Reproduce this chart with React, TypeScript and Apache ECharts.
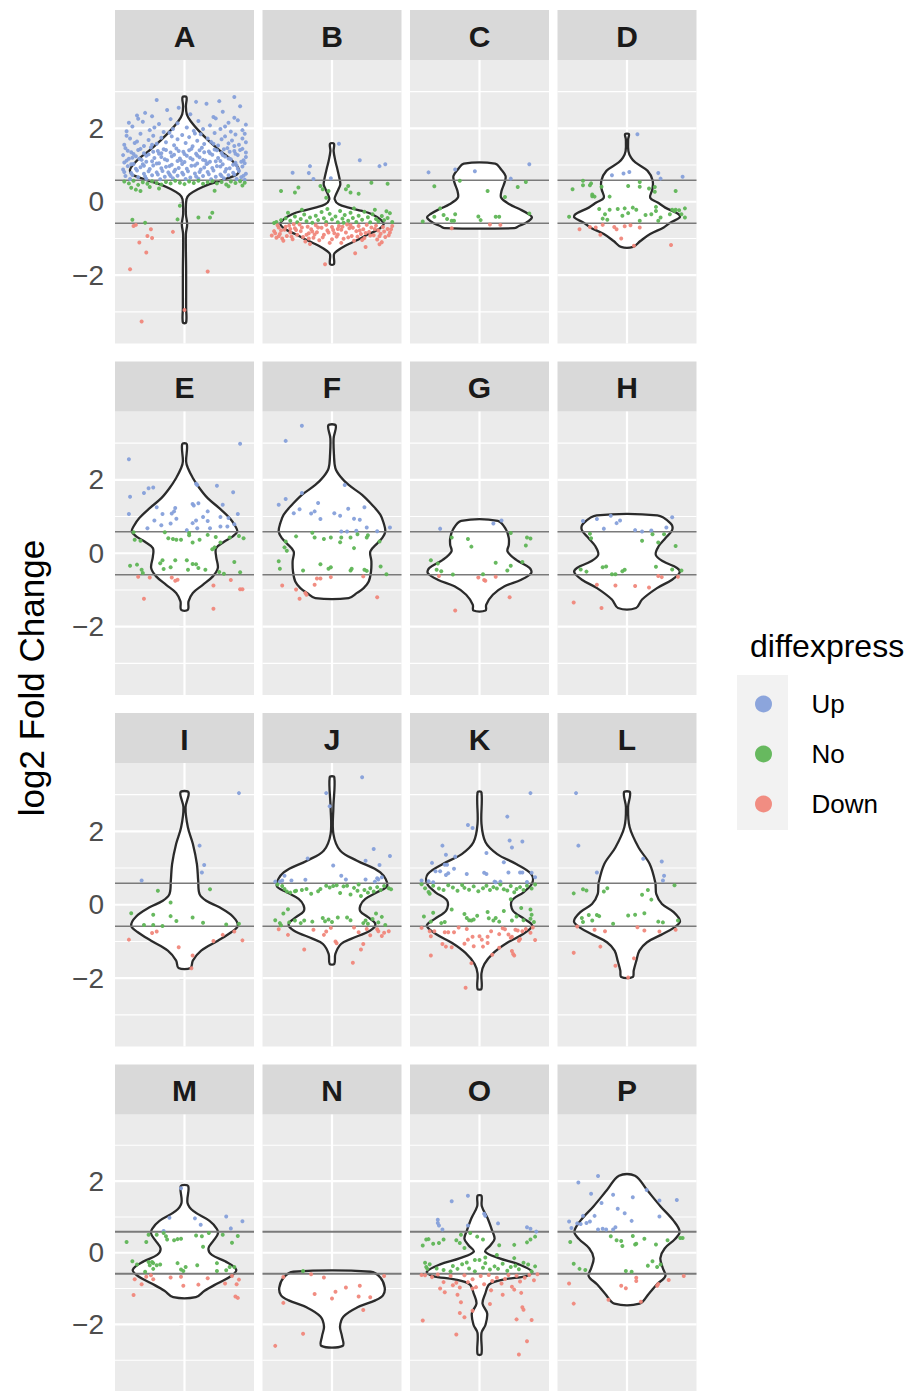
import React, { useEffect, useRef } from "react";
import * as echarts from "echarts";

const panelLabels = ["A", "B", "C", "D", "E", "F", "G", "H", "I", "J", "K", "L", "M", "N", "O", "P"];
const majorTicks = [-2, 0, 2];
const minorTicks = [-3, -1, 1, 3];
const foldThreshold = 0.585;
const groups = ["Up", "No", "Down"];
const groupColors = ["#86a0da", "#5fb556", "#f0877b"];

// violin outlines: [y, halfWidth] pairs, top to bottom
const vioA = [2.85,0.017, 2.6,0.012, 2.38,0.02, 2.20,0.052, 1.93,0.124, 1.66,0.21, 1.38,0.31, 1.20,0.383, 1.02,0.44, 0.88,0.47, 0.75,0.455, 0.61,0.345, 0.48,0.216, 0.34,0.115, 0.20,0.043, 0.07,0.017, -0.34,0.012, -0.61,0.023, -0.88,0.012, -1.88,0.014, -2.88,0.014, -3.29,0.014];
const vioB = [1.58,0.017, 1.38,0.014, 1.11,0.029, 0.93,0.043, 0.66,0.063, 0.48,0.072, 0.39,0.063, 0.20,0.035, 0.07,0.023, -0.07,0.058, -0.16,0.144, -0.25,0.26, -0.34,0.345, -0.48,0.417, -0.61,0.446, -0.75,0.403, -0.88,0.317, -1.07,0.2, -1.20,0.115, -1.34,0.043, -1.43,0.017, -1.70,0.017];
const vioC = [1.04,0.135, 0.88,0.187, 0.70,0.225, 0.52,0.216, 0.29,0.19, 0.11,0.187, -0.07,0.259, -0.20,0.345, -0.34,0.426, -0.43,0.452, -0.57,0.403, -0.66,0.34, -0.72,0.3];
const vioD = [1.84,0.017, 1.70,0.01, 1.38,0.012, 1.20,0.035, 1.07,0.072, 0.84,0.178, 0.57,0.222, 0.34,0.219, 0.11,0.2, -0.02,0.265, -0.16,0.33, -0.34,0.446, -0.43,0.455, -0.57,0.374, -0.70,0.317, -0.88,0.2, -1.07,0.115, -1.23,0.052];
const vioE = [2.97,0.02, 2.50,0.014, 2.32,0.029, 2.05,0.072, 1.77,0.13, 1.50,0.2, 1.23,0.3, 0.96,0.39, 0.73,0.44, 0.59,0.455, 0.46,0.417, 0.32,0.345, 0.14,0.273, -0.09,0.273, -0.40,0.288, -0.63,0.245, -0.86,0.158, -1.08,0.072, -1.31,0.035, -1.54,0.029];
const vioF = [3.48,0.032, 3.13,0.014, 2.68,0.017, 2.32,0.029, 2.09,0.072, 1.86,0.144, 1.59,0.26, 1.32,0.345, 1.05,0.417, 0.82,0.446, 0.59,0.46, 0.41,0.432, 0.28,0.394, 0.05,0.331, -0.22,0.34, -0.49,0.337, -0.77,0.317, -0.95,0.273, -1.08,0.216, -1.22,0.144];
const vioG = [0.88,0.158, 0.64,0.23, 0.41,0.253, 0.23,0.253, 0.05,0.242, -0.18,0.317, -0.40,0.432, -0.54,0.446, -0.72,0.36, -0.90,0.216, -1.13,0.115, -1.40,0.058, -1.56,0.052];
const vioH = [1.03,0.262, 0.82,0.374, 0.64,0.391, 0.41,0.331, 0.19,0.273, -0.04,0.248, -0.22,0.311, -0.40,0.432, -0.52,0.455, -0.72,0.389, -0.95,0.259, -1.26,0.13, -1.49,0.078];
const vioI = [3.06,0.035, 2.65,0.009, 2.11,0.029, 1.66,0.072, 1.11,0.107, 0.66,0.118, 0.29,0.13, 0.11,0.187, -0.07,0.302, -0.32,0.417, -0.57,0.46, -0.75,0.403, -0.98,0.288, -1.25,0.144, -1.52,0.072, -1.72,0.052];
const vioJ = [3.47,0.02, 2.65,0.012, 1.93,0.012, 1.47,0.072, 1.20,0.216, 0.88,0.417, 0.52,0.478, 0.34,0.389, 0.16,0.288, -0.02,0.245, -0.18,0.245, -0.34,0.311, -0.52,0.374, -0.70,0.331, -0.93,0.164, -1.07,0.078, -1.34,0.029, -1.61,0.02];
const vioK = [3.06,0.017, 2.20,0.017, 1.70,0.052, 1.38,0.153, 1.11,0.317, 0.84,0.446, 0.59,0.455, 0.34,0.38, 0.11,0.279, -0.16,0.288, -0.39,0.389, -0.57,0.455, -0.79,0.38, -1.04,0.236, -1.31,0.121, -1.61,0.043, -1.87,0.017, -2.29,0.017];
const vioL = [3.06,0.026, 2.65,0.009, 2.11,0.023, 1.56,0.1, 1.11,0.196, 0.59,0.245, 0.29,0.253, 0.02,0.302, -0.20,0.403, -0.45,0.458, -0.63,0.403, -0.82,0.294, -1.02,0.173, -1.25,0.107, -1.52,0.081, -1.79,0.058, -1.97,0.049];
const vioM = [1.86,0.032, 1.39,0.026, 1.16,0.078, 0.89,0.216, 0.67,0.279, 0.53,0.288, 0.35,0.253, 0.12,0.207, -0.06,0.236, -0.24,0.351, -0.47,0.446, -0.65,0.403, -0.85,0.288, -1.06,0.173, -1.24,0.098];
const vioN = [-0.53,0.334, -0.69,0.417, -0.97,0.455, -1.19,0.44, -1.33,0.374, -1.53,0.216, -1.78,0.1, -2.06,0.069, -2.33,0.086, -2.60,0.092];
const vioO = [1.59,0.017, 1.30,0.02, 0.97,0.069, 0.62,0.109, 0.39,0.13, 0.21,0.095, 0.03,0.049, -0.15,0.167, -0.33,0.345, -0.53,0.455, -0.65,0.403, -0.74,0.216, -0.88,0.086, -1.15,0.049, -1.42,0.026, -1.69,0.066, -2.01,0.052, -2.24,0.017, -2.83,0.017];
const vioP = [2.15,0.069, 1.75,0.173, 1.30,0.288, 0.89,0.403, 0.59,0.455, 0.39,0.417, 0.12,0.325, -0.15,0.288, -0.42,0.308, -0.65,0.331, -0.88,0.259, -1.15,0.187, -1.42,0.109];

// jittered points: [x, y] pairs
const ptsA = [
-0.24,2.77, 0.10,2.72, 0.19,2.67, 0.30,2.74, 0.43,2.85, -0.05,2.56, -0.41,2.35, -0.34,2.42, 0.43,2.29, 0.33,2.45, -0.15,2.50, 0.05,2.38, 0.25,2.31, -0.28,2.33, 0.48,2.60,
-0.50,1.92, -0.45,2.05, -0.36,2.18, -0.22,2.12, -0.12,2.25, 0.02,2.02, 0.12,2.20, 0.22,2.08, 0.31,1.98, 0.38,2.15, 0.46,2.22, 0.50,1.95, -0.30,1.95, -0.18,1.90, 0.08,1.93, 0.27,2.27, -0.40,2.26, -0.06,2.14, 0.40,1.91, 0.16,1.98, -0.48,2.15, 0.35,2.05, -0.26,2.02, 0.53,2.10, -0.10,1.98,
-0.52,1.55, -0.47,1.72, -0.43,1.60, -0.38,1.85, -0.35,1.52, -0.31,1.68, -0.27,1.80, -0.24,1.58, -0.20,1.74, -0.16,1.62, -0.13,1.88, -0.09,1.54, -0.06,1.70, -0.02,1.82, 0.01,1.60, 0.04,1.76, 0.07,1.51, 0.11,1.66, 0.14,1.84, 0.17,1.57, 0.20,1.72, 0.23,1.63, 0.26,1.87, 0.29,1.53, 0.32,1.70, 0.35,1.78, 0.38,1.59, 0.41,1.67, 0.44,1.83, 0.47,1.55, 0.50,1.72, 0.53,1.62, -0.50,1.80, -0.41,1.64, -0.28,1.55, -0.11,1.78, 0.09,1.86, 0.25,1.58, 0.43,1.52, 0.52,1.85,
-0.51,1.46, -0.40,1.41, -0.29,1.48, -0.18,1.43, -0.07,1.45, 0.04,1.40, 0.15,1.47, 0.26,1.42, 0.37,1.46, 0.48,1.41,
-0.46,1.35, -0.35,1.32, -0.23,1.38, -0.12,1.34, -0.01,1.36, 0.10,1.31, 0.21,1.37, 0.32,1.33, 0.43,1.38, 0.53,1.34,
-0.53,1.27, -0.42,1.24, -0.31,1.29, -0.20,1.22, -0.09,1.28, 0.02,1.25, 0.13,1.21, 0.24,1.28, 0.35,1.23, 0.46,1.27,
-0.48,1.17, -0.37,1.14, -0.26,1.19, -0.15,1.13, -0.04,1.18, 0.07,1.15, 0.18,1.12, 0.29,1.19, 0.40,1.16, 0.51,1.13,
-0.52,1.07, -0.44,1.03, -0.33,1.09, -0.22,1.05, -0.11,1.01, 0.00,1.08, 0.11,1.04, 0.22,1.09, 0.33,1.02, 0.44,1.06,
-0.49,0.97, -0.38,0.94, -0.27,0.99, -0.16,0.95, -0.05,0.92, 0.06,0.98, 0.17,0.93, 0.28,0.97, 0.39,0.91, 0.50,0.96,
-0.53,0.88, -0.41,0.85, -0.30,0.89, -0.19,0.84, -0.08,0.87, 0.03,0.83, 0.14,0.88, 0.25,0.85, 0.36,0.89, 0.47,0.84,
-0.46,0.78, -0.35,0.76, -0.24,0.80, -0.13,0.75, -0.02,0.79, 0.09,0.77, 0.20,0.81, 0.31,0.74, 0.42,0.79, 0.53,0.76,
-0.51,0.70, -0.40,0.67, -0.28,0.72, -0.17,0.68, -0.06,0.71, 0.05,0.66, 0.16,0.70, 0.27,0.68, 0.38,0.72, 0.49,0.67,
-0.47,0.62, -0.33,0.63, -0.21,0.61, -0.10,0.64, 0.01,0.62, 0.12,0.63, 0.23,0.61, 0.34,0.64, 0.45,0.62, 0.52,0.60,
-0.45,1.20, -0.36,1.02, -0.20,1.32, -0.03,1.12, 0.13,1.40, 0.31,1.11, 0.45,0.99, 0.34,1.43, -0.14,0.80, 0.19,1.03,
-0.49,1.39, -0.38,1.44, -0.27,1.36, -0.16,1.41, -0.05,1.38, 0.06,1.44, 0.17,1.35, 0.28,1.40, 0.39,1.36, 0.50,1.44,
-0.44,1.30, -0.33,1.25, -0.22,1.31, -0.11,1.24, 0.00,1.30, 0.11,1.26, 0.22,1.32, 0.33,1.27, 0.44,1.31, 0.53,1.22,
-0.50,1.12, -0.39,1.17, -0.28,1.10, -0.17,1.16, -0.06,1.11, 0.05,1.19, 0.16,1.14, 0.27,1.10, 0.38,1.18, 0.49,1.09,
-0.46,1.02, -0.35,0.98, -0.24,1.04, -0.13,0.97, -0.02,1.03, 0.09,0.99, 0.20,1.05, 0.31,0.96, 0.42,1.01, 0.52,1.05,
-0.52,0.81, -0.42,0.90, -0.31,0.83, -0.20,0.91, -0.09,0.82, 0.02,0.90, 0.13,0.81, 0.24,0.92, 0.35,0.82, 0.46,0.90,
-0.45,0.73, -0.34,0.69, -0.23,0.74, -0.12,0.70, -0.01,0.74, 0.10,0.69, 0.21,0.75, 0.32,0.70, 0.43,0.74, 0.51,0.71,
-0.52,0.55, -0.48,0.50, -0.44,0.57, -0.40,0.46, -0.36,0.53, -0.32,0.49, -0.28,0.56, -0.24,0.51, -0.20,0.47, -0.16,0.54, -0.12,0.50, -0.08,0.57, -0.04,0.52, 0.00,0.48, 0.04,0.55, 0.08,0.51, 0.12,0.57, 0.16,0.49, 0.20,0.53, 0.24,0.56, 0.28,0.50, 0.32,0.54, 0.36,0.47, 0.40,0.55, 0.44,0.51, 0.48,0.56, 0.52,0.52, -0.46,0.38, -0.42,0.33, -0.30,0.40, -0.22,0.36, 0.26,0.30, 0.38,0.42, 0.50,0.44, -0.38,0.29,
-0.04,-0.11, 0.24,-0.30, 0.22,-0.43, 0.12,-0.43, -0.06,-0.48, -0.45,-0.49, -0.34,-0.57,
-0.42,-0.63, -0.44,-0.66, -0.29,-0.75, -0.32,-0.93, -0.28,-0.99, -0.10,-0.82, -0.39,-1.11, -0.33,-1.38, -0.47,-1.84, 0.20,-1.90, 0.00,-2.95, -0.37,-3.26
];
const ptsB = [
0.06,1.58, -0.19,0.97, -0.34,0.79, -0.20,0.78, -0.16,0.62, 0.24,1.13, 0.41,0.97, 0.46,1.02, -0.01,0.64,
-0.44,0.29, -0.32,0.25, -0.29,0.39, -0.10,0.43, -0.08,0.34, -0.03,0.29, -0.05,0.11, 0.14,0.43, 0.12,0.34, 0.16,0.25, 0.23,0.22, 0.34,0.52, 0.48,0.49,
-0.48,-0.55, -0.44,-0.50, -0.40,-0.45, -0.36,-0.52, -0.32,-0.40, -0.30,-0.56, -0.27,-0.47, -0.24,-0.35, -0.22,-0.53, -0.19,-0.43, -0.17,-0.57, -0.14,-0.38, -0.12,-0.50, -0.09,-0.28, -0.07,-0.45, -0.05,-0.55, -0.02,-0.33, 0.00,-0.48, 0.03,-0.40, 0.05,-0.56, 0.07,-0.25, 0.09,-0.46, 0.11,-0.36, 0.14,-0.52, 0.16,-0.30, 0.18,-0.44, 0.21,-0.55, 0.23,-0.38, 0.26,-0.49, 0.28,-0.27, 0.31,-0.42, 0.33,-0.56, 0.35,-0.34, 0.38,-0.47, 0.40,-0.53, 0.43,-0.39, 0.45,-0.50, 0.48,-0.44, 0.50,-0.31, 0.52,-0.55, -0.50,-0.58, -0.38,-0.30, -0.04,-0.20, 0.19,-0.18, 0.37,-0.22, 0.47,-0.26, -0.26,-0.22, 0.10,-0.57,
-0.52,-0.92, -0.50,-0.80, -0.48,-0.98, -0.46,-0.70, -0.45,-0.88, -0.43,-1.00, -0.41,-0.76, -0.39,-0.93, -0.37,-0.65, -0.36,-0.84, -0.34,-1.02, -0.32,-0.72, -0.30,-0.90, -0.28,-0.62, -0.27,-0.80, -0.25,-0.96, -0.23,-1.08, -0.21,-0.68, -0.20,-0.86, -0.18,-0.75, -0.16,-0.98, -0.14,-0.64, -0.13,-0.83, -0.11,-1.05, -0.09,-0.71, -0.07,-0.90, -0.05,-0.63, -0.04,-0.78, -0.02,-1.12, 0.00,-0.69, 0.02,-0.86, 0.04,-0.95, 0.06,-0.66, 0.08,-0.76, 0.10,-1.01, 0.12,-0.84, 0.13,-0.62, 0.15,-0.72, 0.17,-0.93, 0.19,-1.06, 0.21,-0.80, 0.23,-0.66, 0.25,-0.88, 0.27,-0.75, 0.28,-0.99, 0.30,-0.63, 0.32,-0.82, 0.34,-0.70, 0.36,-0.91, 0.38,-0.65, 0.40,-0.78, 0.42,-0.87, 0.44,-0.69, 0.46,-0.96, 0.48,-0.74, 0.50,-0.84, 0.52,-0.66, -0.47,-0.64, -0.33,-0.61, -0.15,-0.89, 0.05,-0.74, 0.22,-0.95, 0.39,-1.03, 0.43,-1.10, -0.42,-1.06, 0.20,-1.40, -0.06,-1.70, 0.29,-1.23, 0.41,-1.16, -0.19,-1.15, 0.08,-1.12,
-0.49,-0.86, -0.44,-0.78, -0.40,-0.68, -0.35,-0.95, -0.31,-0.77, -0.26,-0.70, -0.22,-0.90, -0.17,-0.81, -0.12,-0.70, -0.08,-0.97, -0.03,-0.84, 0.01,-0.77, 0.05,-0.89, 0.09,-0.68, 0.14,-0.97, 0.18,-0.71, 0.24,-0.78, 0.29,-0.85, 0.33,-0.92, 0.37,-0.74, 0.41,-0.94, 0.45,-0.81, 0.49,-0.91, 0.51,-0.75, -0.46,-0.94, -0.20,-1.00, 0.00,-1.02, 0.26,-1.04, -0.36,-0.74, 0.16,-0.64
];
const ptsC = [
-0.44,0.80, -0.21,0.88, -0.04,0.83, 0.43,1.02, 0.27,0.63,
-0.17,0.57, -0.39,0.42, 0.07,0.29, 0.33,0.40, 0.40,0.54, 0.22,0.13, -0.34,-0.18, -0.39,-0.41, -0.31,-0.36, -0.28,-0.47, -0.24,-0.52, -0.22,-0.52, -0.21,-0.34, -0.49,-0.54, -0.01,-0.40, 0.01,-0.50, 0.14,-0.41, 0.17,-0.41, 0.43,-0.32,
-0.24,-0.72, 0.09,-0.62, 0.18,-0.63
];
const ptsD = [
0.09,1.84, -0.13,0.72, -0.03,0.77, 0.02,0.81, 0.27,0.78, 0.29,0.63, 0.48,0.68,
-0.38,0.57, -0.38,0.45, -0.32,0.45, -0.31,0.50, -0.47,0.34, -0.22,0.41, -0.30,0.15, -0.28,0.14, -0.15,0.14, 0.01,0.43, 0.11,0.54, 0.11,0.41, 0.19,0.36, 0.24,0.40, 0.24,0.27, 0.42,0.29, -0.50,-0.41, -0.24,-0.20, -0.19,-0.34, -0.21,-0.46, -0.17,-0.49, -0.15,-0.22, -0.08,-0.20, -0.04,-0.38, -0.02,-0.18, 0.01,-0.31, 0.05,-0.16, 0.08,-0.22, 0.11,-0.52, 0.16,-0.36, 0.21,-0.34, 0.25,-0.14, 0.25,-0.25, 0.27,-0.52, 0.29,-0.43, 0.37,-0.34, 0.39,-0.22, 0.41,-0.25, 0.42,-0.22, 0.45,-0.23, 0.47,-0.34, 0.50,-0.18, 0.50,-0.43, -0.30,0.20,
-0.41,-0.75, -0.32,-0.69, -0.27,-0.70, -0.23,-0.90, -0.21,-0.63, -0.11,-0.69, -0.09,-0.75, -0.05,-1.00, -0.02,-0.67, 0.03,-0.64, 0.11,-0.70, 0.06,-1.20, 0.38,-1.18
];
const ptsE = [
-0.48,2.56, 0.48,2.98, -0.47,1.54, -0.35,1.64, -0.31,1.77, -0.27,1.79, 0.10,1.89, 0.11,1.86, 0.28,1.84, 0.42,1.66, -0.48,1.07, -0.24,1.25, -0.19,1.07, -0.11,1.08, -0.09,1.14, -0.08,1.23, 0.07,1.34, 0.08,1.30, 0.12,1.36, 0.20,1.14, 0.16,0.99, 0.33,1.32, 0.46,1.07, -0.26,0.89, -0.07,0.94, 0.10,0.89, 0.20,0.88, 0.31,0.99, 0.38,0.96, -0.32,0.68, -0.20,0.76, -0.12,0.81, 0.02,0.63, 0.11,0.68, 0.22,0.68, 0.31,0.73, 0.43,0.79, 0.37,0.73, 0.07,0.82,
-0.44,0.57, -0.43,0.37, -0.38,0.34, -0.17,0.57, -0.14,0.41, -0.10,0.39, -0.07,0.37, -0.03,0.37, 0.04,0.55, 0.04,0.49, 0.07,0.29, 0.13,0.37, 0.20,0.50, 0.27,0.44, 0.26,0.16, 0.24,0.11, 0.31,0.29, 0.39,0.43, 0.47,0.47, 0.51,0.41, -0.47,-0.34, -0.41,-0.31, -0.37,-0.45, -0.36,-0.54, -0.21,-0.27, -0.19,-0.19, -0.18,-0.43, -0.12,-0.38, -0.08,-0.19, 0.02,-0.19, 0.03,-0.45, 0.07,-0.29, 0.10,-0.30, 0.12,-0.40, 0.18,-0.45, 0.30,-0.51, 0.34,-0.56, 0.43,-0.24, 0.48,-0.52,
-0.40,-0.64, -0.30,-0.66, -0.11,-0.66, -0.08,-0.75, -0.06,-0.72, -0.35,-1.24, 0.25,-0.88, 0.25,-1.51, 0.40,-0.73, 0.48,-0.98, 0.50,-0.98
];
const ptsF = [
-0.26,3.47, -0.40,3.06, 0.11,1.86, -0.26,1.64, -0.40,1.48, -0.46,1.32, -0.28,1.20, -0.12,1.37, -0.33,1.09, -0.18,1.08, -0.15,1.14, -0.10,0.93, 0.02,1.09, 0.07,1.02, 0.14,1.21, 0.19,0.94, 0.24,0.91, 0.28,1.25, 0.30,0.70, 0.39,0.60, 0.50,0.70, 0.08,0.59, 0.13,0.59, 0.21,0.61,
-0.17,0.56, -0.31,0.46, -0.40,0.32, -0.41,0.16, -0.39,0.07, -0.15,0.43, -0.07,0.39, -0.01,0.43, 0.08,0.43, 0.07,0.30, 0.16,0.43, 0.22,0.52, 0.19,0.14, 0.30,0.43, 0.31,0.49, 0.41,0.32, -0.46,-0.22, -0.45,-0.42, -0.25,-0.47, -0.10,-0.30, -0.03,-0.42, -0.01,-0.38, 0.16,-0.47, 0.17,-0.42, 0.28,-0.45, 0.30,-0.48, 0.42,-0.36, 0.47,-0.57,
-0.43,-0.88, -0.31,-0.99, -0.28,-1.24, -0.23,-1.08, -0.22,-1.13, -0.15,-0.86, -0.13,-0.69, -0.10,-0.69, -0.01,-0.65, 0.27,-0.63, 0.39,-1.20
];
const ptsG = [
-0.34,0.67, 0.12,0.81, 0.19,0.89,
-0.24,0.43, -0.10,0.39, -0.07,0.18, 0.27,0.55, 0.41,0.43, 0.44,0.40, 0.40,0.21, -0.42,-0.19, -0.36,-0.28, -0.37,-0.45, -0.33,-0.49, -0.23,-0.58, 0.03,-0.57, 0.14,-0.26, 0.27,-0.34, 0.24,-0.47, 0.37,-0.24,
-0.35,-0.62, -0.01,-0.66, 0.04,-0.73, 0.05,-0.75, 0.14,-0.64, 0.26,-1.20, -0.21,-1.56
];
const ptsH = [
-0.38,0.88, -0.26,0.93, -0.14,1.02, -0.09,0.82, -0.06,0.89, -0.20,0.67, 0.07,0.63, 0.13,0.59, 0.21,0.62, 0.34,0.70, 0.39,0.98,
-0.32,0.53, -0.31,0.41, 0.22,0.52, 0.32,0.52, 0.13,0.34, 0.27,0.29, 0.42,0.20, -0.21,-0.38, -0.18,-0.36, -0.35,-0.50, -0.40,-0.44, -0.13,-0.57, -0.10,-0.57, -0.04,-0.49, -0.02,-0.45, 0.25,-0.37, 0.39,-0.44, 0.47,-0.47,
-0.26,-0.86, -0.10,-0.88, 0.07,-0.89, 0.19,-0.93, 0.27,-0.62, 0.30,-0.65, 0.44,-0.64, -0.46,-1.34, -0.22,-1.49
];
const ptsI = [
0.47,3.04, 0.13,1.61, 0.17,1.08, 0.15,0.88, -0.37,0.66,
-0.23,0.38, 0.22,0.42, -0.12,0.06, -0.46,-0.23, -0.27,-0.27, -0.12,-0.31, -0.07,-0.44, 0.07,-0.35, 0.16,-0.49, -0.35,-0.55, -0.27,-0.55, -0.19,-0.58, 0.36,-0.54, 0.47,-0.52,
-0.28,-0.77, -0.24,-0.73, -0.48,-0.95, -0.05,-1.16, 0.07,-1.38, 0.06,-1.73, 0.25,-0.99, 0.33,-0.82, 0.43,-0.73, 0.50,-0.97
];
const ptsJ = [
0.26,3.47, -0.05,3.04, -0.02,2.68, 0.36,1.52, 0.50,1.33, -0.21,1.26, 0.29,1.20, 0.01,1.07, 0.41,1.08, -0.41,0.79, 0.08,0.79, 0.12,0.69, 0.39,0.72, 0.40,0.69, 0.43,0.75, 0.29,0.69, -0.49,0.63, -0.45,0.63, -0.43,0.66, -0.35,0.66, -0.23,0.68, 0.37,0.63,
-0.43,0.51, -0.41,0.43, -0.39,0.36, -0.32,0.37, -0.31,0.38, -0.26,0.40, -0.22,0.43, -0.18,0.30, -0.12,0.37, -0.10,0.43, -0.05,0.52, -0.02,0.47, 0.01,0.51, 0.04,0.53, 0.07,0.32, 0.10,0.50, 0.13,0.52, 0.16,0.28, 0.19,0.46, 0.22,0.38, 0.25,0.24, 0.28,0.40, 0.31,0.33, 0.33,0.45, 0.36,0.36, 0.39,0.48, 0.42,0.40, 0.45,0.51, 0.49,0.45, 0.51,0.42, -0.47,0.55, -0.36,0.33, 0.23,0.55,
-0.49,-0.42, -0.45,-0.50, -0.42,-0.24, -0.38,-0.12, -0.37,-0.48, -0.32,-0.43, -0.27,-0.50, -0.24,-0.43, -0.17,-0.46, -0.08,-0.36, -0.06,-0.45, -0.03,-0.40, 0.00,-0.47, 0.05,-0.35, 0.13,-0.35, 0.16,-0.42, 0.27,-0.50, 0.29,-0.43, 0.31,-0.52, 0.35,-0.39, 0.38,-0.24, 0.40,-0.48, 0.43,-0.33, 0.46,-0.55, -0.44,-0.56,
-0.46,-0.67, -0.38,-0.82, -0.24,-1.22, -0.07,-0.82, -0.05,-0.73, 0.03,-1.00, 0.04,-1.05, 0.19,-0.62, 0.23,-0.75, 0.30,-0.66, 0.25,-1.22, 0.27,-1.07, 0.18,-1.58, 0.39,-0.67, 0.40,-0.72, 0.45,-0.76, 0.49,-0.72, 0.33,-0.83, -0.01,-0.63, -0.16,-0.68, 0.43,-0.85
];
const ptsK = [
0.44,3.04, -0.10,2.17, -0.06,2.09, 0.24,2.40, 0.26,1.75, 0.28,1.56, 0.37,1.72, -0.32,1.61, -0.29,1.36, -0.21,1.31, -0.41,1.14, -0.30,1.09, -0.28,1.09, 0.06,1.41, 0.21,1.16, -0.38,0.91, -0.34,0.91, -0.27,0.86, -0.29,0.81, -0.22,0.98, -0.11,0.84, 0.04,0.87, 0.06,0.84, 0.25,0.88, 0.35,0.88, 0.37,0.88, 0.45,0.87, 0.48,0.75, -0.50,0.66, -0.44,0.64, -0.40,0.61, 0.13,0.63, 0.14,0.61, 0.18,0.63, 0.41,0.62,
-0.50,0.56, -0.47,0.45, -0.43,0.30, -0.40,0.52, -0.35,0.44, -0.31,0.40, -0.27,0.53, -0.23,0.47, -0.19,0.38, -0.15,0.54, -0.13,0.46, -0.09,0.41, -0.05,0.50, -0.01,0.37, 0.03,0.45, 0.06,0.52, 0.09,0.40, 0.12,0.48, 0.15,0.44, 0.18,0.55, 0.21,0.42, 0.24,0.39, 0.27,0.51, 0.30,0.34, 0.32,0.43, 0.35,0.48, 0.38,0.40, 0.41,0.52, 0.45,0.44, 0.48,0.55, -0.44,0.35, 0.27,0.15,
-0.48,-0.32, -0.40,-0.22, -0.42,-0.46, -0.33,-0.50, -0.30,-0.47, -0.13,-0.25, -0.11,-0.36, -0.09,-0.42, -0.07,-0.43, -0.05,-0.40, -0.02,-0.30, 0.07,-0.20, 0.08,-0.37, 0.12,-0.43, 0.14,-0.36, 0.17,-0.46, 0.21,-0.17, 0.28,-0.43, 0.32,-0.32, 0.38,-0.42, 0.44,-0.13, 0.45,-0.27, 0.47,-0.47, 0.44,-0.38, -0.24,-0.13, 0.36,-0.09,
-0.50,-0.63, -0.43,-0.72, -0.42,-0.86, -0.30,-0.75, -0.27,-0.75, -0.22,-0.75, -0.18,-0.62, -0.11,-0.66, -0.10,-0.95, -0.06,-0.87, 0.00,-0.86, 0.07,-0.87, 0.10,-0.72, 0.20,-0.64, 0.22,-0.67, 0.25,-0.81, 0.28,-0.87, 0.31,-0.68, 0.33,-0.70, 0.35,-0.93, 0.37,-0.72, 0.40,-0.66, 0.44,-0.76, 0.48,-0.96, 0.46,-0.62, 0.34,-0.98, 0.27,-0.90, -0.39,-0.72, -0.32,-1.07, -0.29,-1.14, -0.05,-1.13, 0.03,-1.14, 0.07,-1.04, 0.17,-1.17, 0.28,-1.26, 0.29,-1.34, 0.30,-1.38, -0.42,-1.38, -0.07,-1.59, -0.12,-2.26, 0.11,-1.36, -0.13,-1.06, 0.02,-0.95, 0.17,-0.80, -0.24,-1.16
];
const ptsL = [
-0.44,3.04, -0.42,1.61, 0.14,1.25, 0.30,1.18, 0.32,0.79, 0.31,0.66, -0.26,0.88,
0.41,0.53, -0.46,0.31, -0.38,0.42, -0.35,0.39, -0.20,0.36, -0.17,0.45, 0.18,0.40, 0.13,0.27, 0.21,0.14, -0.39,-0.36, -0.33,-0.28, -0.30,-0.43, -0.26,-0.28, -0.24,-0.31, -0.12,-0.52, 0.01,-0.29, 0.07,-0.27, 0.15,-0.23, 0.27,-0.46, 0.31,-0.48, 0.44,-0.43, -0.38,-0.47,
-0.43,-0.59, -0.28,-0.68, -0.19,-0.72, -0.23,-1.14, -0.46,-1.31, 0.09,-0.61, 0.15,-0.70, 0.28,-0.73, 0.42,-0.68, 0.06,-1.46, -0.10,-1.66, 0.01,-1.98
];
const ptsM = [
-0.03,1.80, -0.13,0.98, 0.09,0.96, 0.14,0.78, 0.36,1.01, 0.40,0.68, 0.50,0.88, -0.18,0.61,
-0.50,0.30, -0.33,0.30, -0.31,0.50, -0.24,0.50, -0.18,0.55, -0.16,0.46, -0.15,0.37, -0.09,0.35, -0.06,0.38, -0.03,0.39, 0.10,0.48, 0.15,0.46, 0.21,0.55, 0.16,0.17, 0.33,0.50, 0.41,0.28, 0.46,0.47, -0.45,-0.24, -0.41,-0.33, -0.31,-0.26, -0.30,-0.35, -0.27,-0.45, -0.28,-0.26, -0.27,-0.29, -0.24,-0.35, -0.21,-0.33, -0.34,-0.53, -0.06,-0.29, -0.03,-0.47, 0.01,-0.40, -0.01,-0.51, 0.11,-0.35, 0.28,-0.29, 0.28,-0.51, 0.36,-0.49, 0.39,-0.40, 0.43,-0.40,
-0.43,-0.74, -0.37,-0.88, -0.33,-0.67, -0.29,-0.63, -0.27,-0.74, -0.44,-1.18, -0.12,-0.69, -0.03,-0.67, -0.01,-0.92, 0.12,-0.89, 0.20,-0.71, 0.35,-0.86, 0.41,-0.65, 0.45,-0.88, 0.47,-0.75, 0.44,-1.22, 0.46,-1.26
];
const ptsN = [
-0.25,-0.51,
-0.42,-0.68, -0.18,-0.60, -0.07,-0.69, 0.45,-0.65, -0.15,-1.15, 0.03,-1.09, 0.12,-0.97, 0.24,-0.92, 0.00,-1.28, 0.23,-1.22, 0.33,-1.24, 0.27,-1.60, -0.42,-1.40, -0.25,-2.26, -0.49,-2.60
];
const ptsO = [
-0.10,1.59, -0.24,1.44, -0.36,0.92, -0.35,0.76, -0.32,0.65, -0.36,0.83, -0.10,0.76, 0.04,1.09, 0.05,1.03, 0.16,0.82, 0.41,0.71, 0.44,0.67, 0.49,0.59,
-0.49,0.20, -0.46,0.37, -0.44,0.38, -0.40,0.25, -0.35,0.27, -0.31,0.37, -0.20,0.35, -0.17,0.27, -0.13,0.13, -0.02,0.45, 0.03,0.37, 0.17,0.21, 0.30,0.22, 0.41,0.29, 0.44,0.37, 0.48,0.45, -0.16,0.50, -0.08,0.55,
-0.46,-0.40, -0.45,-0.45, -0.43,-0.32, -0.47,-0.28, -0.37,-0.44, -0.31,-0.48, -0.25,-0.52, -0.23,-0.37, -0.19,-0.45, -0.15,-0.32, -0.11,-0.27, -0.09,-0.44, -0.04,-0.52, 0.00,-0.20, 0.03,-0.42, 0.05,-0.29, 0.09,-0.47, 0.13,-0.38, 0.16,-0.45, 0.20,-0.31, 0.24,-0.50, 0.27,-0.40, 0.31,-0.36, 0.34,-0.46, 0.38,-0.28, 0.42,-0.33, 0.45,-0.52, 0.48,-0.38, 0.05,-0.13, -0.04,-0.20, 0.15,-0.06, 0.30,-0.15,
-0.50,-0.62, -0.47,-0.63, -0.41,-0.68, -0.36,-0.61, -0.31,-0.82, -0.25,-0.65, -0.23,-0.91, -0.20,-0.84, -0.17,-0.97, -0.13,-0.63, -0.10,-0.82, -0.06,-0.74, -0.03,-0.96, 0.01,-0.65, 0.04,-0.88, 0.08,-0.62, 0.11,-0.79, 0.15,-0.70, 0.19,-0.86, 0.22,-0.73, 0.25,-0.62, 0.28,-0.95, 0.32,-0.64, 0.35,-0.80, 0.39,-0.70, 0.43,-0.62, 0.47,-0.77, 0.50,-0.60, -0.34,-1.00, -0.30,-1.10, -0.19,-1.17, -0.06,-1.00, 0.10,-1.05, 0.20,-1.17, 0.30,-1.03, 0.36,-1.12, -0.16,-1.38, 0.09,-1.43, 0.37,-1.52, 0.38,-1.59, -0.13,-1.80, -0.17,-1.68, 0.32,-1.86, -0.49,-1.89, 0.45,-1.88, -0.20,-2.28, 0.41,-2.47, 0.34,-2.84, -0.06,-1.62
];
const ptsP = [
-0.25,2.14, -0.42,1.96, -0.31,1.65, -0.12,1.62, 0.05,1.55, 0.17,1.75, 0.28,1.46, 0.43,1.47, -0.22,1.39, -0.08,1.23, -0.02,1.10, -0.38,1.03, -0.28,1.03, 0.04,0.89, -0.50,0.87, -0.43,0.82, -0.40,0.80, -0.35,0.83, -0.32,0.87, 0.28,1.01, -0.48,0.69, -0.25,0.65, -0.21,0.67, -0.18,0.65, -0.12,0.65, -0.10,0.71,
-0.49,0.30, -0.14,0.46, -0.09,0.35, -0.05,0.33, -0.04,0.19, 0.05,0.47, 0.07,0.23, 0.08,0.25, 0.15,0.39, 0.25,0.23, 0.35,0.35, 0.46,0.41, 0.48,0.41, -0.46,-0.31, -0.41,-0.45, -0.36,-0.48, -0.01,-0.51, 0.04,-0.53, 0.18,-0.36, 0.22,-0.24, 0.26,-0.40, 0.29,-0.33,
-0.50,-0.86, -0.46,-1.42, -0.16,-1.31, -0.05,-0.92, -0.01,-0.99, 0.08,-0.70, 0.08,-0.79, 0.12,-1.37, 0.26,-0.92, 0.27,-0.87, 0.36,-0.76, 0.49,-0.65
];

const violins = [vioA, vioB, vioC, vioD, vioE, vioF, vioG, vioH, vioI, vioJ, vioK, vioL, vioM, vioN, vioO, vioP];
const points = [ptsA, ptsB, ptsC, ptsD, ptsE, ptsF, ptsG, ptsH, ptsI, ptsJ, ptsK, ptsL, ptsM, ptsN, ptsO, ptsP];

const FONT = "'Liberation Sans', Arial, Helvetica, sans-serif";

export default function App() {
  const ref = useRef<HTMLDivElement>(null);
  useEffect(() => {
    document.body.style.margin = "0";
    if (!ref.current) return;
    const chart = echarts.init(ref.current, null, { renderer: "svg" });

    const colLeft = [115, 262.5, 410, 557.5];
    const rowTop = [10, 361.5, 713, 1064.5];
    const refLineWidth = [1.3, 1.3, 1.3, 1.9];
    const panelW = 139;
    const stripH = 50;
    const panelH = 283.5;
    const xMin = -0.6, xMax = 0.6, yMin = -3.86, yMax = 3.86;

    const grids: any[] = [], xAxes: any[] = [], yAxes: any[] = [], series: any[] = [], graphics: any[] = [];

    const groupOf = (y: number) => (y > foldThreshold ? 0 : y < -foldThreshold ? 2 : 1);

    panelLabels.forEach((lab, i) => {
      const r = Math.floor(i / 4), c = i % 4;
      grids.push({ left: colLeft[c], top: rowTop[r] + stripH, width: panelW, height: panelH, show: true, backgroundColor: "#ebebeb", borderWidth: 0 });
      xAxes.push({ type: "value", gridIndex: i, min: xMin, max: xMax, show: false });
      yAxes.push({
        type: "value", gridIndex: i, min: yMin, max: yMax,
        axisLine: { show: false }, splitLine: { show: false },
        axisTick: { show: c === 0, customValues: majorTicks, length: 5, lineStyle: { color: "#333", width: 1.2 } },
        axisLabel: { show: c === 0, customValues: majorTicks, fontSize: 28, color: "#4d4d4d", margin: 11, fontFamily: FONT,
          formatter: (v: number) => (v < 0 ? "\u2212" + Math.abs(v) : String(v)) },
      });
      graphics.push({ type: "rect", shape: { x: colLeft[c], y: rowTop[r], width: panelW, height: stripH }, style: { fill: "#d9d9d9" }, silent: true });
      graphics.push({ type: "text", x: colLeft[c] + panelW / 2, y: rowTop[r] + stripH / 2 + 1, style: { text: lab, fontSize: 30, fontWeight: "bold", fill: "#1a1a1a", textAlign: "center", textVerticalAlign: "middle", fontFamily: FONT }, silent: true });

      series.push({
        type: "custom", xAxisIndex: i, yAxisIndex: i, z: 1, silent: true, data: [[0, 0]],
        renderItem: (_p: any, api: any) => {
          const children: any[] = [];
          const hl = (v: number, w: number) => {
            const a = api.coord([xMin, v]), b = api.coord([xMax, v]);
            children.push({ type: "line", shape: { x1: a[0], y1: a[1], x2: b[0], y2: b[1] }, style: { stroke: "#ffffff", lineWidth: w } });
          };
          minorTicks.forEach((v) => hl(v, 1.1));
          majorTicks.forEach((v) => hl(v, 2.2));
          const t = api.coord([0, yMax]), bt = api.coord([0, yMin]);
          children.push({ type: "line", shape: { x1: t[0], y1: t[1], x2: bt[0], y2: bt[1] }, style: { stroke: "#ffffff", lineWidth: 2.2 } });
          return { type: "group", children };
        },
      });
      const prof = violins[i];
      series.push({
        type: "custom", xAxisIndex: i, yAxisIndex: i, z: 2, silent: true, data: [[0, 0]],
        renderItem: (_p: any, api: any) => {
          const pts: number[][] = [];
          for (let k = 0; k < prof.length; k += 2) pts.push(api.coord([prof[k + 1], prof[k]]));
          for (let k = prof.length - 2; k >= 0; k -= 2) pts.push(api.coord([-prof[k + 1], prof[k]]));
          return { type: "polygon", shape: { points: pts, smooth: 0.35 }, style: { fill: "#ffffff", stroke: "#2b2b2b", lineWidth: 2.3 } };
        },
      });
      series.push({
        type: "custom", xAxisIndex: i, yAxisIndex: i, z: 3, silent: true, data: [[0, 0]],
        renderItem: (_p: any, api: any) => {
          const children = [foldThreshold, -foldThreshold].map((v) => {
            const a = api.coord([xMin, v]), b = api.coord([xMax, v]);
            return { type: "line", shape: { x1: a[0], y1: a[1], x2: b[0], y2: b[1] }, style: { stroke: "#7a7a7a", lineWidth: refLineWidth[r] } };
          });
          return { type: "group", children };
        },
      });
      const pts = points[i];
      const buckets: number[][][] = [[], [], []];
      for (let k = 0; k < pts.length; k += 2) buckets[groupOf(pts[k + 1])].push([pts[k], pts[k + 1]]);
      groups.forEach((g, gi) => {
        series.push({
          type: "scatter", name: g, xAxisIndex: i, yAxisIndex: i, z: 4, symbol: "circle", symbolSize: 4,
          itemStyle: { color: groupColors[gi], opacity: 0.95 }, data: buckets[gi], silent: true,
        });
      });
    });

    graphics.push({ type: "text", x: 31, y: 678, rotation: Math.PI / 2, style: { text: "log2 Fold Change", fontSize: 35, fill: "#000", textAlign: "center", textVerticalAlign: "middle", fontFamily: FONT }, silent: true });
    graphics.push({ type: "text", x: 750, y: 646, style: { text: "diffexpress", fontSize: 32, fill: "#000", textAlign: "left", textVerticalAlign: "middle", fontFamily: FONT }, silent: true });
    graphics.push({ type: "rect", shape: { x: 737, y: 675, width: 51, height: 155 }, style: { fill: "#f2f2f2" }, silent: true, z: -1 });

    chart.setOption({
      animation: false,
      backgroundColor: "#ffffff",
      grid: grids,
      xAxis: xAxes,
      yAxis: yAxes,
      graphic: graphics,
      legend: {
        data: groups, orient: "vertical", left: 750, top: 684, itemWidth: 86, itemHeight: 17, itemGap: 20,
        icon: "circle", selectedMode: false,
        textStyle: { fontSize: 26, color: "#000", lineHeight: 30, fontFamily: FONT },
      },
      series,
    });
    return () => chart.dispose();
  }, []);
  return <div ref={ref} style={{ width: 908, height: 1391 }} />;
}
